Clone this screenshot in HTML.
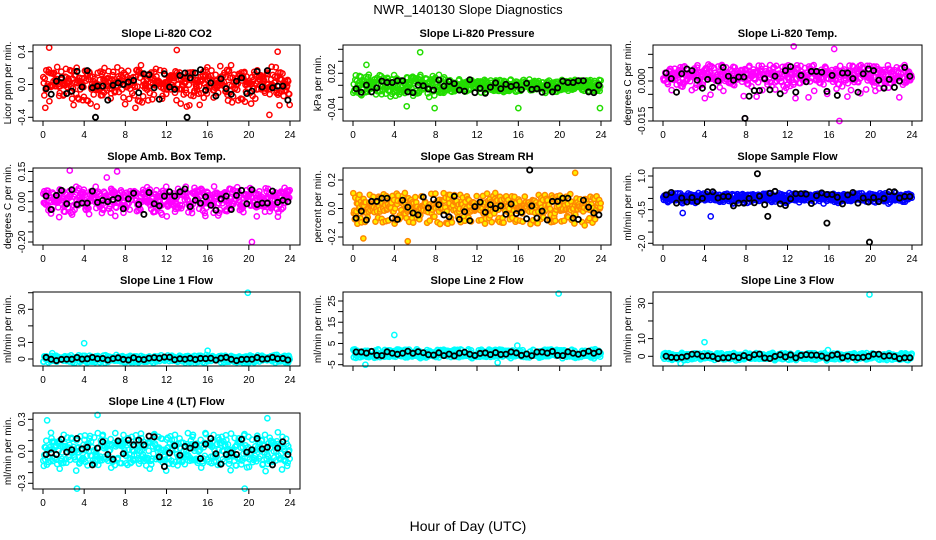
<!DOCTYPE html>
<html><head><meta charset="utf-8"><style>
body{margin:0;background:#fff}
svg{display:block;font-family:"Liberation Sans",sans-serif}
</style></head><body>
<svg id="chart" width="936" height="540" viewBox="0 0 936 540">
<rect width="936" height="540" fill="#fff"/>
<text x="468" y="14" font-size="13" text-anchor="middle">NWR_140130  Slope Diagnostics</text>
<text x="468" y="531" font-size="14" text-anchor="middle">Hour of Day (UTC)</text>
</svg>
<script>
const hourTicks = [0,4,8,12,16,20,24];
const noise = [0.3,-0.7,0.1,0.9,-0.2,-0.5,0.6,0.0,-0.9,0.4,0.2,-0.3,0.8,-0.6,0.5,-0.1,0.7,-0.8,0.05,0.35,-0.45,0.65,-0.25,0.15,-0.95,0.55,0.25,-0.65,0.85,-0.15,0.45,-0.35,0.0,0.75,-0.55,0.1,-0.05,0.95,-0.75,0.3,0.6,-0.4,-0.2,0.2,-0.85,0.5,0.15,-0.6,0.7,-0.1,0.4,-0.3,0.9,-0.7,0.05,-0.5,0.35,0.8,-0.25,-0.9,0.25,0.55,-0.15,0.65,-0.45,0.1,-0.8,0.45,0.0,-0.35,0.75,-0.65,0.2,0.85,-0.05,-0.55,0.6,0.3,-0.75,0.15,0.5,-0.95,0.4,-0.2,0.7,-0.4,0.1,0.9,-0.6,0.25,-0.1,0.55,-0.85,0.35,0.05,-0.3,0.8,-0.5,0.2,0.65];
const panelTitles = ["Slope Li-820 CO2","Slope Li-820 Pressure","Slope Li-820 Temp.","Slope Amb. Box Temp.","Slope Gas Stream RH","Slope Sample Flow","Slope Line 1 Flow","Slope Line 2 Flow","Slope Line 3 Flow","Slope Line 4 (LT) Flow"];
const yTitles = ["Licor ppm per min.","kPa per min.","degrees C per min.","degrees C per min.","percent per min.","ml/min per min.","ml/min per min.","ml/min per min.","ml/min per min.","ml/min per min."];
const centers = [0,-0.002,0.0,0,0,0.0,0,0.3,0,0];
const spreads = [0.26,0.019,0.0068,0.075,0.11,0.22,2.4,2.4,2.2,0.17];
const blackSpreads = [0.2,0.012,0.006,0.07,0.09,0.35,1.2,1.2,1.4,0.15];
const yTickValues = [[-0.4,-0.2,0,0.2,0.4],[-0.04,-0.02,0,0.02,0.04,0.06],[-0.015,-0.01,-0.005,0,0.005,0.01],[-0.2,-0.15,-0.1,-0.05,0,0.05,0.1,0.15],[-0.2,-0.1,0,0.1,0.2],[-2,-1.5,-1,-0.5,0,0.5,1],[0,10,20,30,40],[-5,0,5,10,15,20,25],[0,10,20,30],[-0.3,-0.2,-0.1,0,0.1,0.2,0.3]];
const yTickLabels = [["-0.4","0.0","0.4"],["-0.04","0.02"],["-0.015","0.000"],["-0.20","0.00","0.15"],["-0.2","0.0","0.2"],["-2.0","-0.5","1.0"],["0","10","30"],["-5","5","15","25"],["0","10","30"],["-0.3","0.0","0.3"]];
const colorOutliers = [[[0.6,0.45],[13,0.42],[22,-0.37],[22.8,0.4]],[[6.5,0.055],[5.2,-0.035],[7.9,-0.038],[16,-0.038],[23.9,-0.038],[1.3,0.034]],[[7.9,-0.014],[17,-0.015],[16.5,0.012],[12.6,0.013]],[[2.6,0.155],[7.2,0.15],[20.3,-0.2],[6.2,0.12]],[[5.3,-0.23],[21.5,0.25],[1,-0.21]],[[1.9,-0.65],[4.6,-0.8]],[[19.9,40],[4,9.5],[16,5],[0.9,3.5]],[[19.9,28.5],[4,9],[15.9,4],[14,-4],[1.2,-5]],[[19.9,35],[4,8],[1.7,-4],[15.9,3.5]],[[5.3,0.34],[3.3,-0.35],[19.6,-0.35],[21.8,0.31],[0.4,0.29]]];
const blackOutliers = [[[5.1,-0.4],[14,-0.4]],[],[[7.9,-0.014]],[],[[17.1,0.27]],[[9.1,1.1],[19.9,-1.95],[15.8,-1.1],[10.1,-0.8]],[],[],[],[]];

// layout (not data)
const boxes = [[33,45,300,121],[343,45,611,121],[653,45,922,121],[33,168,300,245],[343,168,611,245],[653,168,922,245],[33,292,300,366],[343,292,611,366],[653,292,922,366],[33,413,300,489]];
const yCal = [[-0.4,117.3,0.4,51.7],[-0.04,109.3,0.02,73.3],[-0.015,121,0,81],[-0.2,242,0,201.7],[-0.2,237,0.2,180],[-2,243.3,1,176],[0,359,30,309.3],[-5,364.7,25,301],[0,356.3,30,303.3],[-0.3,483.3,0.3,419.3]];
const styles = [{s:"#ff0000",f:"none"},{s:"#22dd00",f:"none"},{s:"#ff00ff",f:"none"},{s:"#ff00ff",f:"none"},{s:"#ff8800",f:"#ffee00"},{s:"#0000ff",f:"none"},{s:"#00ffff",f:"none"},{s:"#00ffff",f:"none"},{s:"#00ffff",f:"none"},{s:"#00ffff",f:"none"}];

const NS="http://www.w3.org/2000/svg";
const svg=document.getElementById('chart');
function mk(tag,attrs,parent){const e=document.createElementNS(NS,tag);for(const k in attrs)e.setAttribute(k,attrs[k]);(parent||svg).appendChild(e);return e;}
function nz(i,p){return noise[(i*i*7+i*3+p*13)%100];}
function nz2(i,p){return noise[(i*31+Math.floor(i/7)*11+p*29)%100];}

for(let p=0;p<10;p++){
  const [x0,y0,x1,y1]=boxes[p];
  const [va,pa,vb,pb]=yCal[p];
  const xs=h=>x0+10+(h/24)*(x1-x0-20);
  const ys=v=>pa+(v-va)*(pb-pa)/(vb-va);
  const g=mk('g',{});
  
  
  const t=mk('text',{x:(x0+x1)/2,y:y0-8,'font-size':11,'font-weight':'bold','text-anchor':'middle'},g);
  t.textContent=panelTitles[p];
  
  
  const yt=mk('text',{transform:`translate(${x0-22},${(y0+y1)/2}) rotate(-90)`,'font-size':10,'text-anchor':'middle'},g);
  yt.textContent=yTitles[p];
  
  
  const pts=mk('g',{},g);
  
  
  const st=styles[p];
  const N=480;
  for(let i=0;i<N;i++){
    const h=(i+0.5)*24/N;
    let sp=spreads[p];
    if(p===1 && h>9) sp*=0.6;
    const v=centers[p]+sp*(0.85*nz(i,p)+0.3*nz2(i,p));
    const c=mk('circle',{cx:xs(h).toFixed(1),cy:ys(v).toFixed(1),r:2.6,fill:st.f,stroke:st.s,'stroke-width':1.5},pts);
    
    
  }
  colorOutliers[p].forEach(o=>{
    const c=mk('circle',{cx:xs(o[0]),cy:ys(o[1]),r:2.6,fill:st.f,stroke:st.s,'stroke-width':1.5},pts);
    
    
  });
  for(let j=0;j<48;j++){
    const h=j*0.5+0.3;
    const v=centers[p]+blackSpreads[p]*nz2(j*5+3,p+1);
    const c=mk('circle',{cx:xs(h).toFixed(1),cy:ys(v).toFixed(1),r:2.6,fill:'none',stroke:'#000','stroke-width':1.8},pts);
    
    
  }
  blackOutliers[p].forEach(o=>{
    const c=mk('circle',{cx:xs(o[0]),cy:ys(o[1]),r:2.6,fill:'none',stroke:'#000','stroke-width':1.8},pts);
    
    
  });
  const box=mk('rect',{x:x0,y:y0,width:x1-x0,height:y1-y0,fill:'none',stroke:'#000','stroke-width':1},g);
  
  
  yTickValues[p].forEach(v=>{
    const y=ys(v);
    mk('line',{x1:x0,x2:x0-5,y1:y,y2:y,stroke:'#000'},g);
  });
  yTickLabels[p].forEach(l=>{
    const y=ys(parseFloat(l));
    const tl=mk('text',{transform:`translate(${x0-8},${y}) rotate(-90)`,'font-size':10,'text-anchor':'middle'},g);
    tl.textContent=l;
    
    
  });
  hourTicks.forEach(h=>{
    const x=xs(h);
    mk('line',{x1:x,x2:x,y1:y1,y2:y1+5,stroke:'#000'},g);
    if(p<7||p===9){
      const tl=mk('text',{x:x,y:y1+17,'font-size':10,'text-anchor':'middle'},g);
      tl.textContent=String(h);
      
      
    }
  });
}
</script>
</body></html>
